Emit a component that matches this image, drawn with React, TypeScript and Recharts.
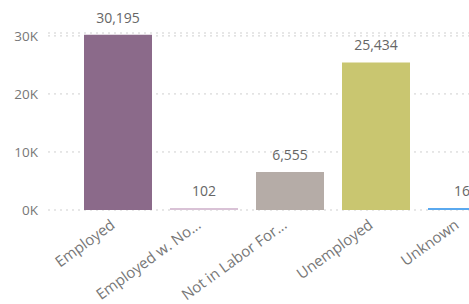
import { Bar, BarChart, CartesianGrid, Cell, LabelList, XAxis, YAxis } from "recharts";

const categories = ["Employed", "Employed w. No...", "Not in Labor For...", "Unemployed", "Unknown"];
const counts = [30195, 102, 6555, 25434, 16];
const yTicks = [0, 10000, 20000, 30000];
const barColors = ["#8b6a8a", "#d9c2d6", "#b5aca7", "#c9c670", "#5aa9ef"];

const data = categories.map((name, i) => ({ name, count: counts[i] }));

const FONT = "'Open Sans', 'Noto Sans', sans-serif";

// rotated category labels, end of text sits just left of the bar centre
function CategoryTick(props: any) {
  const { x, y, payload } = props;
  return (
    <g transform={`translate(${x - 2},${y + 9})`}>
      <text
        x={0}
        y={0}
        textAnchor="end"
        transform="rotate(-36)"
        fill="#777"
        fontSize={15}
        fontFamily={FONT}
      >
        {payload.value}
      </text>
    </g>
  );
}

export default function App() {
  const formatK = (v: number) => `${v / 1000}K`;
  const formatCount = (v: any) => Number(v).toLocaleString("en-US");

  return (
    <div
      style={{
        position: "absolute",
        left: 0,
        top: 0,
        width: 469,
        height: 304,
        overflow: "hidden",
        background: "#fff",
      }}
    >
      <BarChart
        width={505}
        height={304}
        data={data}
        margin={{ top: 33, right: 0, bottom: 0, left: 0 }}
      >
        <CartesianGrid stroke="#cfcfcf" strokeDasharray="2 4" vertical={false} />
        <XAxis
          dataKey="name"
          axisLine={false}
          tickLine={false}
          interval={0}
          height={94}
          padding={{ left: 27, right: 0 }}
          tick={<CategoryTick />}
        />
        <YAxis
          width={48}
          domain={[0, 30500]}
          ticks={yTicks}
          axisLine={false}
          tickLine={false}
          tickMargin={4}
          tickFormatter={formatK}
          tick={{ fill: "#777", fontSize: 13.5, fontFamily: FONT }}
        />
        <Bar dataKey="count" barSize={68} minPointSize={2} isAnimationActive={false}>
          {data.map((d, i) => (
            <Cell key={d.name} fill={barColors[i]} />
          ))}
          <LabelList
            dataKey="count"
            position="top"
            offset={12}
            formatter={formatCount}
            fill="#666"
            fontSize={14}
            fontFamily={FONT}
          />
        </Bar>
      </BarChart>
    </div>
  );
}
